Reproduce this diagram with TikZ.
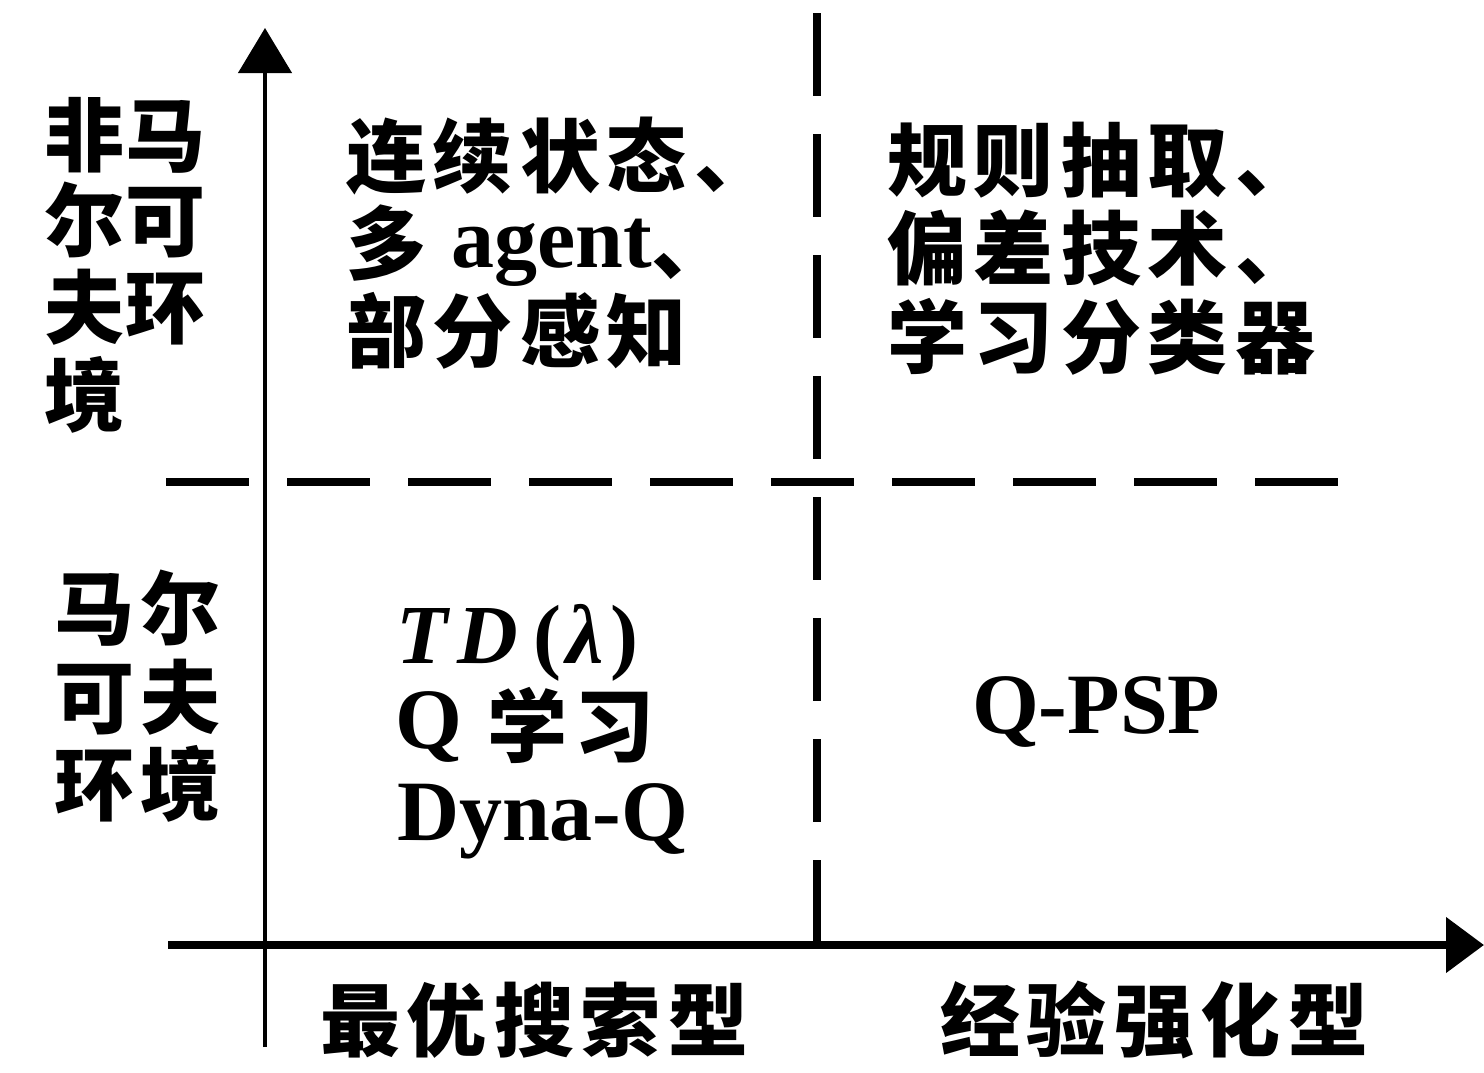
\documentclass[tikz,border=0pt]{standalone}
\usepackage{fontspec}
\setmainfont{Liberation Serif}
\newfontfamily\cjk{Noto Sans CJK SC}[LetterSpace=8.75]
\usetikzlibrary{arrows.meta}
\newcommand\lat[1]{{\rmfamily\bfseries\fontsize{86}{87}\selectfont #1}}
\newcommand\low[2][9pt]{\raisebox{-#1}{#2}}
\begin{document}
\begin{tikzpicture}[x=1pt,y=-1pt,
  txt/.style={font=\cjk\bfseries\fontsize{80}{87}\selectfont, inner sep=0pt, outer sep=0pt, anchor=base west},
  axisline/.style={line width=#1, draw=black},
  dashline/.style={line width=8pt, dash pattern=on 83pt off 38pt}]
\useasboundingbox (0,0) rectangle (1484,1072);
\fill[white] (0,0) rectangle (1484,1072);

% coordinates for axes and dividers
\coordinate (yb) at (265,1047);
\coordinate (yt) at (265,28);
\coordinate (xl) at (168,945);
\coordinate (xr) at (1484,945);
\coordinate (vdt) at (817,13);
\coordinate (vdb) at (817,945);
\coordinate (hdl) at (166,482);
\coordinate (hdr) at (1348,482);

\draw[dashline] (vdt) -- (vdb);
\draw[dashline] (hdl) -- (hdr);
\draw[axisline=4.5pt, -{Triangle[length=45pt,width=53pt]}] (yb) -- (yt);
\draw[axisline=8pt, -{Triangle[length=38pt,width=54pt]}] (xl) -- (xr);

% left labels
\node[txt] (n1) at (45,165) {非\kern1pt 马};
\node[txt] (n2) at (45,250) {尔\kern1pt 可};
\node[txt] (n3) at (45,337) {夫\kern1pt 环};
\node[txt] (n4) at (45,425) {境};
\node[txt] (m1) at (54,638) {马尔};
\node[txt] (m2) at (54,727) {可夫};
\node[txt] (m3) at (54,814) {环境};

% top-left quadrant
\node[txt] (tl1) at (346,186) {连续状态、};
\node[txt] (tl2) at (346,267) {\low[6pt]{多}\ \lat{agent}\low[6pt]{、}};
\node[txt] (tl3) at (346,361) {部分感知};

% top-right quadrant
\node[txt] (tr1) at (887,190) {规则抽取、};
\node[txt] (tr2) at (887,278) {偏差技术、};
\node[txt] (tr3) at (887,367) {学习分类器};

% bottom-left quadrant
\node[txt] (bl1) at (396,663) {\rmfamily\bfseries\fontsize{84}{86}\selectfont\textit{T\kern10pt D}\kern16pt(\kern5pt\textit{λ}\kern6pt)};
\node[txt] (bl2) at (395,748) {\lat{Q}\ \low[8pt]{学习}};
\node[txt] (bl3) at (397,840) {\lat{Dyna-Q}};

% bottom-right quadrant
\node[txt] (br1) at (972,733) {\lat{Q-PSP}};

% axis labels
\node[txt] (x1) at (320,1050) {最优搜索型};
\node[txt] (x2) at (940,1050) {经验强化型};
\end{tikzpicture}
\end{document}
